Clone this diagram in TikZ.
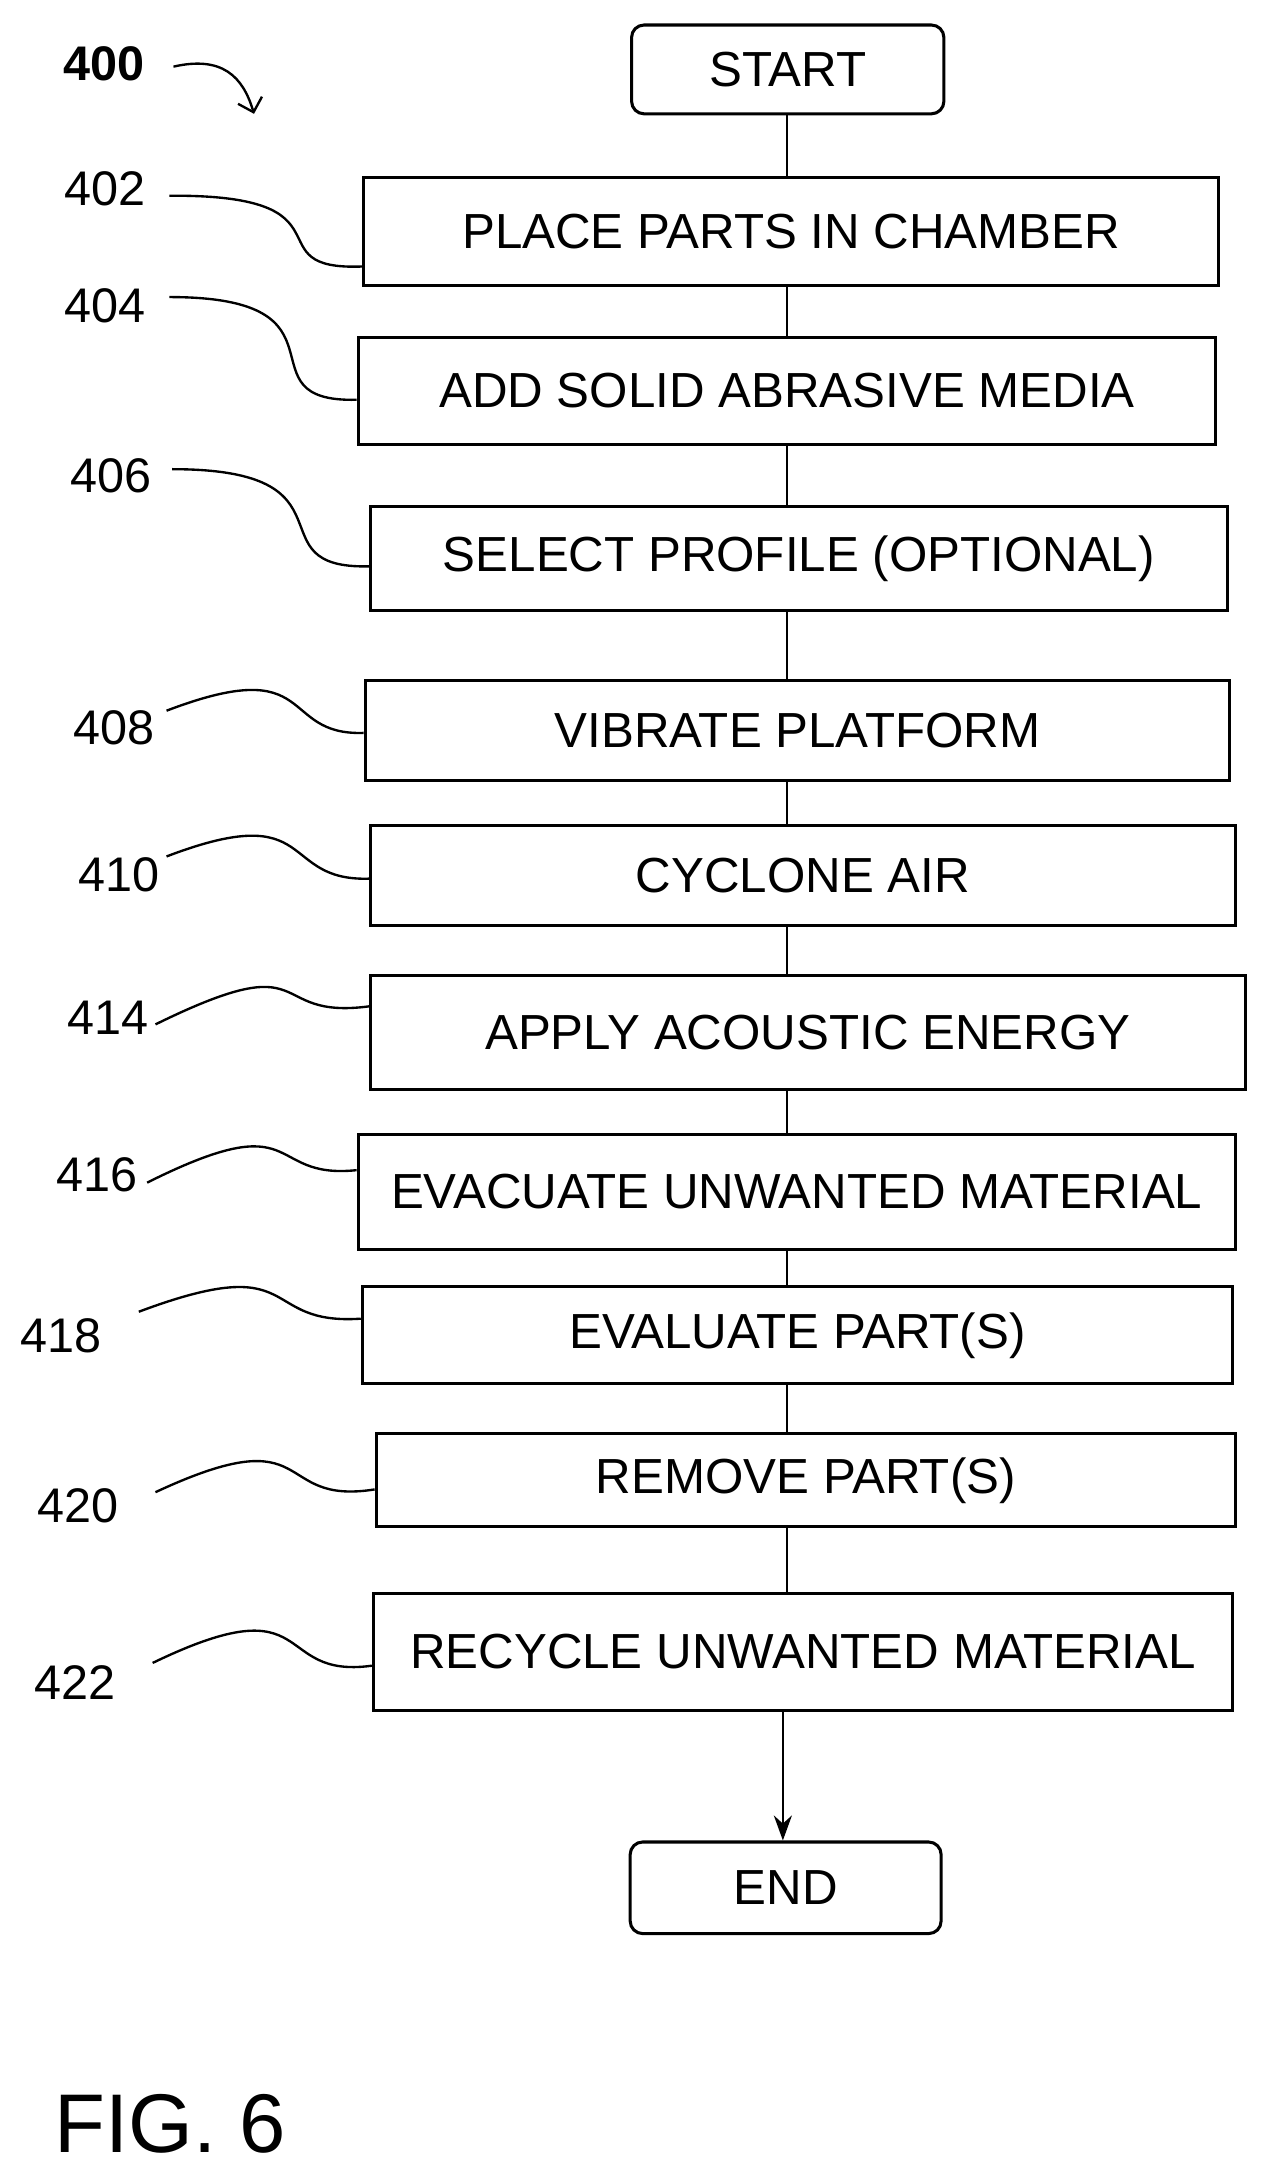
\documentclass[tikz,border=0pt]{standalone}
\usetikzlibrary{arrows.meta}
\usepackage{fontspec}
\setmainfont{Liberation Sans}
\begin{document}
\begin{tikzpicture}[x=1pt,y=-1pt,
  box/.style={draw,line width=2.2pt,inner sep=0pt,font=\fontsize{35.5}{38}\selectfont},
  term/.style={box,rounded corners=9pt},
  lbl/.style={font=\fontsize{35}{38}\selectfont},
  lead/.style={line width=1.7pt}]
\useasboundingbox (0,0) rectangle (910,1559);
\def\bx#1#2#3#4#5#6{\node[#6,minimum width=#3-#2,minimum height=#5-#4] (#1) at ({(#2+#3)/2},{(#4+#5)/2})}
\bx{s}{455}{680}{18}{82}{term} {START};
\bx{b402}{262}{878}{128}{206}{box} {PLACE PARTS IN CHAMBER};
\bx{b404}{258}{876}{243}{320}{box} {ADD SOLID ABRASIVE MEDIA};
\bx{b406}{267}{884}{365}{440}{box} {SELECT PROFILE (OPTIONAL)};
\bx{b408}{263}{886}{490}{562}{box} {VIBRATE PLATFORM};
\bx{b410}{267}{890}{595}{667}{box} {CYCLONE AIR};
\bx{b414}{267}{897}{703}{785}{box} {APPLY ACOUSTIC ENERGY};
\bx{b416}{258}{890}{817}{900}{box} {EVACUATE UNWANTED MATERIAL};
\bx{b418}{261}{888}{927}{997}{box} {EVALUATE PART(S)};
\bx{b420}{271}{890}{1033}{1100}{box} {REMOVE PART(S)};
\bx{b422}{269}{888}{1148}{1232}{box} {RECYCLE UNWANTED MATERIAL};
\bx{e}{454}{678}{1327}{1393}{term} {END};
\foreach \a/\b in {s/b402,b402/b404,b404/b406,b406/b408,b408/b410,b410/b414,b414/b416,b416/b418,b418/b420,b420/b422}
  \draw[line width=1.7pt] (567,0 |- \a.south) -- (567,0 |- \b.north);
\draw[line width=1.7pt,-{Stealth[length=18pt,width=13pt]}] (564,0 |- b422.south) -- (564,0 |- e.north);
\node[lbl,font=\bfseries\fontsize{35}{38}\selectfont] (l400) at (75,46) {400};
\coordinate (a0) at (125,48);
\coordinate (a1) at (183,82);
\draw[lead,-{Straight Barb[length=9pt]}] (a0) .. controls (160,40) and (175,55) .. (a1);
\node[lbl] (l402) at (76,136) {402};
\node[lbl] (l404) at (76,220) {404};
\node[lbl] (l406) at (80,343) {406};
\node[lbl] (l408) at (82,524) {408};
\node[lbl] (l410) at (86,630) {410};
\node[lbl] (l414) at (78,733) {414};
\node[lbl] (l416) at (70,846) {416};
\node[lbl] (l418) at (44,962) {418};
\node[lbl] (l420) at (56,1085) {420};
\node[lbl] (l422) at (54,1212) {422};
\draw[lead] (122,141) .. controls (260,140) and (180,195) .. (b402.west |- 0,192);
\draw[lead] (122,214) .. controls (260,214) and (170,290) .. (b404.west |- 0,288);
\draw[lead] (124,338) .. controls (262,338) and (180,410) .. (b406.west |- 0,408);
\draw[lead] (120,512) .. controls (230,470) and (200,530) .. (b408.west |- 0,528);
\draw[lead] (120,617) .. controls (230,575) and (200,635) .. (b410.west |- 0,633);
\draw[lead] (112,738) .. controls (230,680) and (190,735) .. (b414.west |- 0,725);
\draw[lead] (106,852) .. controls (220,795) and (190,850) .. (b416.west |- 0,843);
\draw[lead] (100,945) .. controls (220,900) and (185,955) .. (b418.west |- 0,950);
\draw[lead] (112,1075) .. controls (230,1020) and (195,1085) .. (b420.west |- 0,1073);
\draw[lead] (110,1198) .. controls (230,1140) and (195,1210) .. (b422.west |- 0,1200);
\node[font=\fontsize{60}{64}\selectfont,anchor=west] (fig) at (36,1530) {FIG. 6};
\end{tikzpicture}
\end{document}
